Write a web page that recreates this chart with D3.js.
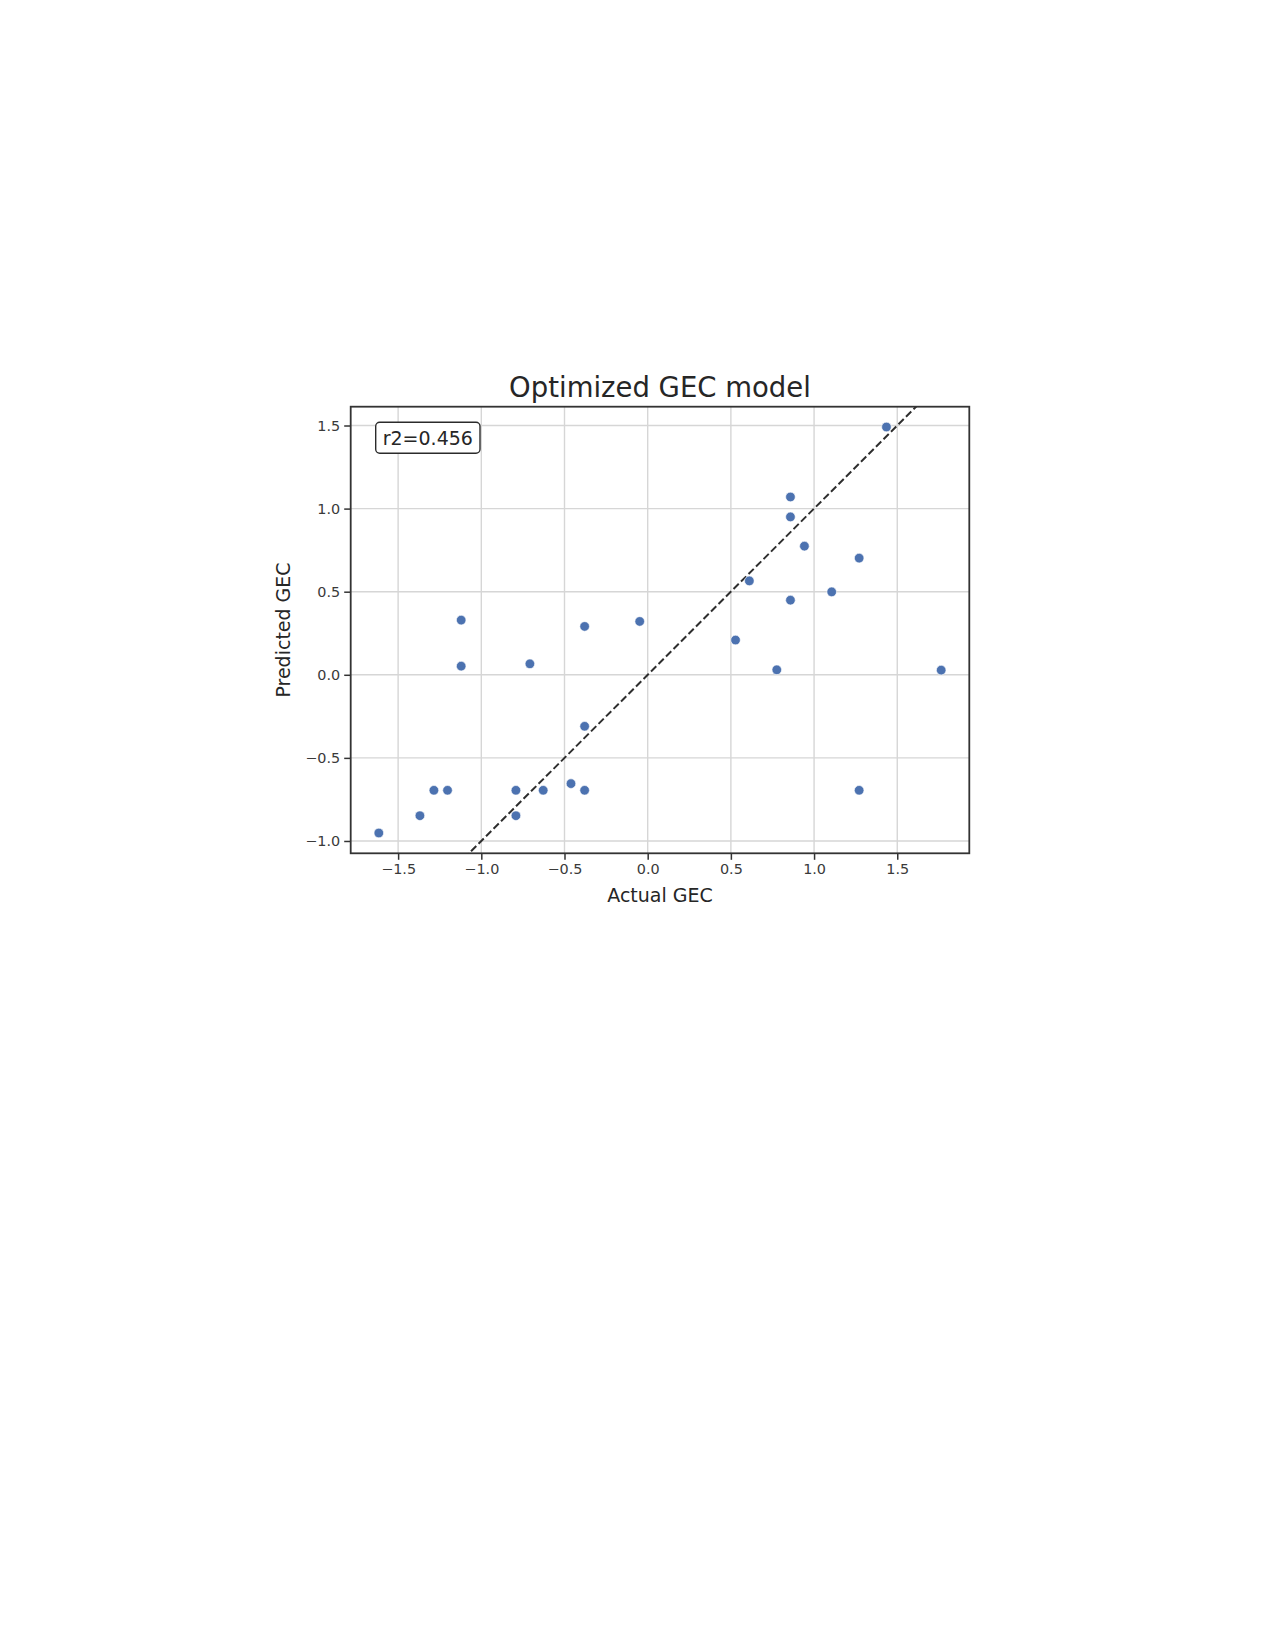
<!DOCTYPE html>
<html>
<head>
<meta charset="utf-8">
<script src="https://cdn.jsdelivr.net/npm/d3@7"></script>
<style>
  html, body { margin: 0; padding: 0; background: #ffffff; }
  svg { display: block; }
  text { font-family: "DejaVu Sans", sans-serif; }
</style>
</head>
<body>
<svg id="chart" width="1275" height="1650"></svg>
<script>
// ---- data ----
const actual = [-1.616, -1.369, -1.285, -1.203, -1.121, -1.121, -0.792, -0.792, -0.708, -0.628,
                -0.461, -0.379, -0.379, -0.379, -0.048, 0.528, 0.611, 0.776, 0.858, 0.858,
                0.858, 0.942, 1.106, 1.271, 1.271, 1.435, 1.764];
const predicted = [-0.952, -0.848, -0.695, -0.695, 0.329, 0.052, -0.695, -0.848, 0.066, -0.695,
                   -0.655, 0.291, -0.310, -0.695, 0.321, 0.209, 0.565, 0.030, 1.070, 0.950,
                   0.449, 0.774, 0.499, 0.702, -0.695, 1.491, 0.028];
const xTicks = [-1.5, -1.0, -0.5, 0.0, 0.5, 1.0, 1.5];
const yTicks = [-1.0, -0.5, 0.0, 0.5, 1.0, 1.5];
const titleText = "Optimized GEC model";
const xLabelText = "Actual GEC";
const yLabelText = "Predicted GEC";
const r2Text = "r2=0.456";
const identityLine = [-3, 3];

(function () {
// ---- layout ----
const pL = 350.7, pR = 969.3, pT = 406.7, pB = 853.3;
const svg = d3.select("#chart");

// domain with 5% margins like matplotlib
const xmin = d3.min(actual), xmax = d3.max(actual);
const ymin = d3.min(predicted), ymax = d3.max(predicted);
const xm = (xmax - xmin) * 0.05, ym = (ymax - ymin) * 0.05;
const x = d3.scaleLinear().domain([xmin - xm, xmax + xm]).range([pL, pR]);
const y = d3.scaleLinear().domain([ymin - ym, ymax + ym]).range([pB, pT]);

const fmt = d => d.toFixed(1).replace("-", "\u2212");

svg.append("defs").append("clipPath").attr("id", "clip")
  .append("rect").attr("x", pL).attr("y", pT).attr("width", pR - pL).attr("height", pB - pT);

// grid
const grid = svg.append("g");
grid.selectAll(".gx").data(xTicks).join("line")
  .attr("x1", d => x(d)).attr("x2", d => x(d)).attr("y1", pT).attr("y2", pB)
  .attr("stroke", "#d6d6d6").attr("stroke-width", 1.4);
grid.selectAll(".gy").data(yTicks).join("line")
  .attr("y1", d => y(d)).attr("y2", d => y(d)).attr("x1", pL).attr("x2", pR)
  .attr("stroke", "#d6d6d6").attr("stroke-width", 1.4);

// axes
const xAxis = svg.append("g").attr("transform", `translate(0,${pB})`)
  .call(d3.axisBottom(x).tickValues(xTicks).tickFormat(fmt).tickSize(6.5).tickPadding(4));
const yAxis = svg.append("g").attr("transform", `translate(${pL},0)`)
  .call(d3.axisLeft(y).tickValues(yTicks).tickFormat(fmt).tickSize(6.5).tickPadding(4));
[xAxis, yAxis].forEach(a => {
  a.select(".domain").remove();
  a.selectAll(".tick line").attr("stroke", "#333").attr("stroke-width", 1.5);
  a.selectAll(".tick text").attr("fill", "#3a3a3a").style("font-size", "14.4px")
    .style("font-family", "DejaVu Sans, sans-serif");
});

// identity line
svg.append("line")
  .attr("clip-path", "url(#clip)")
  .attr("x1", x(identityLine[0])).attr("y1", y(identityLine[0]))
  .attr("x2", x(identityLine[1])).attr("y2", y(identityLine[1]))
  .attr("stroke", "#2e2e2e").attr("stroke-width", 2).attr("stroke-dasharray", "7.4,3.2");

// points
svg.append("g").selectAll("circle").data(actual).join("circle")
  .attr("cx", d => x(d)).attr("cy", (d, i) => y(predicted[i]))
  .attr("r", 4.8).attr("fill", "#4c72b0").attr("stroke", "#ffffff").attr("stroke-width", 0.6);

// frame
svg.append("rect").attr("x", pL).attr("y", pT).attr("width", pR - pL).attr("height", pB - pT)
  .attr("fill", "none").attr("stroke", "#333").attr("stroke-width", 1.8);

// r2 box
svg.append("rect").attr("x", 375.7).attr("y", 422.3).attr("width", 104.3).attr("height", 31)
  .attr("rx", 4).attr("fill", "#fff").attr("stroke", "#2b2b2b").attr("stroke-width", 1.4);
svg.append("text").attr("x", 427.8).attr("y", 444.5).attr("text-anchor", "middle")
  .style("font-size", "19px").attr("fill", "#262626").text(r2Text);

// title and labels
svg.append("text").attr("x", (pL + pR) / 2).attr("y", 397).attr("text-anchor", "middle")
  .style("font-size", "27.5px").attr("fill", "#262626").text(titleText);
svg.append("text").attr("x", (pL + pR) / 2).attr("y", 902).attr("text-anchor", "middle")
  .style("font-size", "19px").attr("fill", "#262626").text(xLabelText);
svg.append("text").attr("transform", `translate(290,${(pT + pB) / 2}) rotate(-90)`)
  .attr("text-anchor", "middle").style("font-size", "19px").attr("fill", "#262626").text(yLabelText);
})();
</script>
</body>
</html>
